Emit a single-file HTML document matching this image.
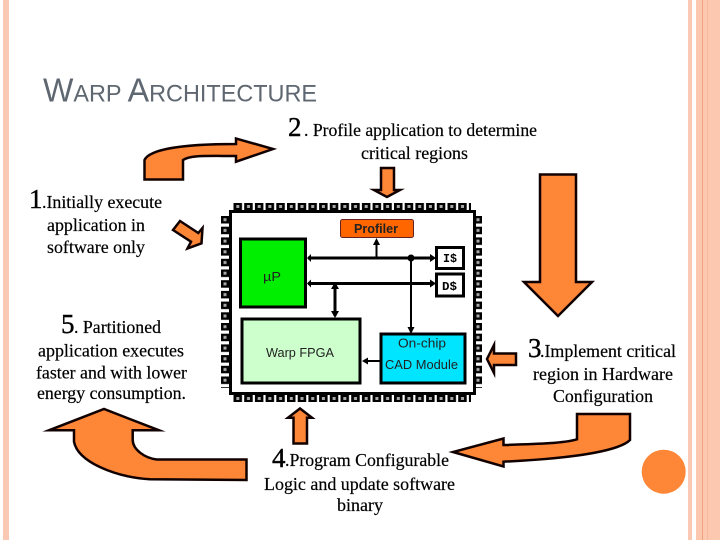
<!DOCTYPE html>
<html><head><meta charset="utf-8"><style>
html,body{margin:0;padding:0;background:#fff;width:720px;height:540px;overflow:hidden}
svg{display:block}
.s{font-family:"Liberation Serif",serif;font-size:18px;fill:#000;stroke:#000;stroke-width:.2}
.b{font-family:"Liberation Serif",serif;font-size:27px;fill:#000;stroke:#000;stroke-width:.4}
.c{font-family:"Liberation Sans",sans-serif;font-size:13px;fill:#222}
.a{fill:#fe8637;stroke:#100;stroke-width:2.5;stroke-linejoin:miter;stroke-miterlimit:12}
</style></head><body>
<svg width="720" height="540" viewBox="0 0 720 540" xmlns="http://www.w3.org/2000/svg">
<defs>
<pattern id="h" x="233.5" y="203" width="10.7" height="7" patternUnits="userSpaceOnUse"><rect width="8.5" height="7" fill="#000"/><rect x="2.8" y="2" width="3" height="3" fill="#aaa"/></pattern>
<pattern id="hb" x="233.5" y="395" width="10.7" height="7" patternUnits="userSpaceOnUse"><rect width="8.5" height="7" fill="#000"/><rect x="2.8" y="2" width="3" height="3" fill="#aaa"/></pattern>
<pattern id="v" x="221" y="216" width="8" height="10.7" patternUnits="userSpaceOnUse"><rect width="8" height="7.5" fill="#000"/><rect x="2.5" y="2.2" width="3" height="3" fill="#aaa"/></pattern>
<pattern id="vr" x="474" y="216" width="8" height="10.7" patternUnits="userSpaceOnUse"><rect width="8" height="7.5" fill="#000"/><rect x="2.5" y="2.2" width="3" height="3" fill="#aaa"/></pattern>
</defs>
<rect width="720" height="540" fill="#fff"/>
<rect x="3" width="6" height="540" fill="#fbc9b3"/>
<rect x="688" width="4" height="540" fill="#fbc9b3"/>
<rect x="696" width="24" height="540" fill="#fdc8b0"/>
<rect x="702" width="1" height="540" fill="#f0a27c"/>
<rect x="707" width="1" height="540" fill="#f8b99c"/>

<text x="43" y="101.5" font-family="Liberation Sans,sans-serif" font-size="24" fill="#5f6770" textLength="274" lengthAdjust="spacingAndGlyphs"><tspan font-size="33">W</tspan>ARP <tspan font-size="33">A</tspan>RCHITECTURE</text>

<path class="a" d="M144.5 179.5H183V160C190 155 205 156 236 156V161.7L273 149L236 138.5V144C190 144 150 148 144.5 160Z"/>
<path class="a" d="M173 230L180 221L198.3 233L202.5 228L201.5 243.3L187.5 248.5L191 241.7Z"/>
<path class="a" d="M381 168H394V190H400L387 197L374 190H381Z"/>
<path class="a" d="M540 174.5H576V282H592L558 316L524 282H540Z"/>
<path class="a" d="M516 353.5V365H494V373L487 359L494 345V353.5Z"/>
<path class="a" d="M293.5 443.5H307V417.7H312L300 408.5L288 417.7H293.5Z"/>
<path class="a" d="M577 414H630V440C620 450 580 458 503.5 461.7V466.5L453 452L503.5 438.5V445C540 444 565 443 577 439.3Z"/>
<path class="a" d="M246.5 480V459.5H156.7C145 458 133 450 132.7 440V430.3H159L104 409L49 430.3H74V441.7C78 462 115 477 150 479.3Z"/>
<circle cx="663.7" cy="471.7" r="22" fill="#fe8637"/>

<rect x="233" y="203" width="238" height="7" fill="url(#h)"/>
<rect x="233" y="395" width="238" height="7" fill="url(#hb)"/>
<rect x="221" y="216" width="8" height="172" fill="url(#v)"/>
<rect x="474" y="216" width="8" height="172" fill="url(#vr)"/>
<rect x="230.5" y="211.5" width="244" height="182" fill="#fff" stroke="#000" stroke-width="3"/>

<rect x="340.5" y="219.5" width="73" height="18" rx="2" fill="#f60" stroke="#622" stroke-width="1"/>
<rect x="240.5" y="239" width="65" height="68" fill="#00ee00" stroke="#000" stroke-width="3"/>
<rect x="242" y="319" width="118" height="64" fill="#ccffcc" stroke="#000" stroke-width="3"/>
<rect x="381" y="334" width="84" height="49" fill="#00e5ff" stroke="#000" stroke-width="3"/>
<rect x="436.5" y="247.5" width="27" height="21" fill="#fff" stroke="#000" stroke-width="3"/>
<rect x="436.5" y="274" width="27" height="22" fill="#fff" stroke="#000" stroke-width="3"/>

<g stroke="#000" fill="none">
<path d="M308 258H432M308 283.5H432" stroke-width="3"/>
<path d="M376.5 258V243M411 258V329M380 361H366" stroke-width="2"/>
<path d="M335 285V316" stroke-width="3"/>
</g>
<g fill="#000">
<path d="M307 258L311 254V262ZM307 283.5L311 279.5V287.5ZM436 258L430 254V262ZM436 283.5L430 279.5V287.5Z"/>
<path d="M376.5 238L380 245H373ZM411 334L407.5 327H414.5ZM335 282L339 289H331ZM335 318L339 311H331ZM362 361L368 357.5V364.5Z"/>
<circle cx="411" cy="258" r="3.5"/>
</g>

<text class="c" x="354" y="233" font-weight="bold" textLength="44" lengthAdjust="spacingAndGlyphs">Profiler</text>
<text class="c" x="263" y="281" font-size="15" fill="#1a6a1a" textLength="18" lengthAdjust="spacingAndGlyphs">µP</text>
<text class="c" x="266" y="357" textLength="68" lengthAdjust="spacingAndGlyphs">Warp FPGA</text>
<text class="c" x="398" y="347.5" textLength="48" lengthAdjust="spacingAndGlyphs">On-chip</text>
<text class="c" x="385" y="369" textLength="73" lengthAdjust="spacingAndGlyphs">CAD Module</text>
<text x="443" y="262" font-family="Liberation Mono,monospace" font-weight="bold" font-size="12" textLength="14" lengthAdjust="spacingAndGlyphs">I$</text>
<text x="442" y="290" font-family="Liberation Mono,monospace" font-weight="bold" font-size="12" textLength="15" lengthAdjust="spacingAndGlyphs">D$</text>

<text class="b" x="288" y="136">2</text>
<text class="s" x="304" y="136" textLength="233" lengthAdjust="spacingAndGlyphs">. Profile application to determine</text>
<text class="s" x="361" y="159" textLength="107" lengthAdjust="spacingAndGlyphs">critical regions</text>

<text class="b" x="29" y="208">1</text>
<text class="s" x="42" y="208" textLength="120" lengthAdjust="spacingAndGlyphs">.Initially execute</text>
<text class="s" x="47" y="231" textLength="98" lengthAdjust="spacingAndGlyphs">application in</text>
<text class="s" x="47" y="253" textLength="98" lengthAdjust="spacingAndGlyphs">software only</text>

<text class="b" x="61" y="333">5</text>
<text class="s" x="74" y="333" textLength="87" lengthAdjust="spacingAndGlyphs">. Partitioned</text>
<text class="s" x="38" y="356.5" textLength="146" lengthAdjust="spacingAndGlyphs">application executes</text>
<text class="s" x="36" y="378.5" textLength="151" lengthAdjust="spacingAndGlyphs">faster and with lower</text>
<text class="s" x="37" y="399" textLength="149" lengthAdjust="spacingAndGlyphs">energy consumption.</text>

<text class="b" x="528" y="357">3</text>
<text class="s" x="540" y="357" textLength="136" lengthAdjust="spacingAndGlyphs">.Implement critical</text>
<text class="s" x="533" y="380" textLength="140" lengthAdjust="spacingAndGlyphs">region in Hardware</text>
<text class="s" x="553" y="402" textLength="100" lengthAdjust="spacingAndGlyphs">Configuration</text>

<text class="b" x="272" y="467">4</text>
<text class="s" x="285" y="466" textLength="164" lengthAdjust="spacingAndGlyphs">.Program Configurable</text>
<text class="s" x="264" y="490" textLength="191" lengthAdjust="spacingAndGlyphs">Logic and update software</text>
<text class="s" x="337" y="511" textLength="46" lengthAdjust="spacingAndGlyphs">binary</text>
</svg>
</body></html>
